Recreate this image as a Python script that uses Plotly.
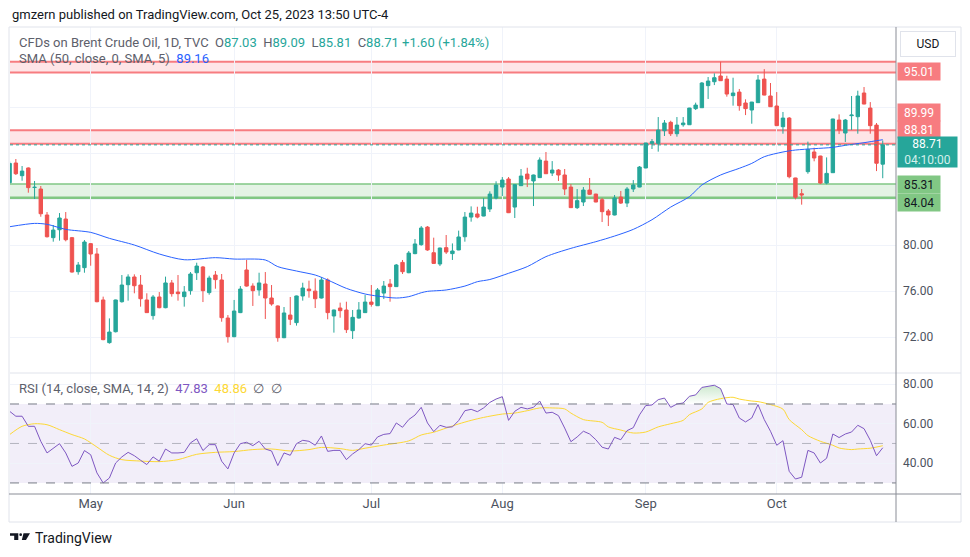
import numpy as np
import pandas as pd
import plotly.graph_objects as go
from plotly.subplots import make_subplots

FONT = "Roboto, 'Noto Sans', sans-serif"
UP, DOWN = "#26a69a", "#ef5350"

# trading days, Apr 12 .. Oct 25 2023 (candle centred at noon)
dates = pd.bdate_range("2023-04-12", "2023-10-25") + pd.Timedelta(hours=12)

open_ = [85.42, 87.13, 86.03, 86.70, 85.00, 84.87, 82.61, 80.64, 81.33, 82.26,
         80.64, 77.68, 78.03, 80.12, 79.22, 75.22, 71.51, 72.46, 75.07, 76.55,
         77.22, 76.52, 75.22, 73.86, 75.48, 74.55, 76.70, 75.91, 75.51, 76.03,
         77.59, 78.09, 75.86, 77.39, 76.96, 73.65, 72.03, 74.12, 77.83, 76.43,
         76.09, 76.61, 75.39, 74.70, 71.94, 73.91, 73.25, 75.57, 76.17, 75.99,
         75.39, 76.96, 73.83, 74.52, 74.35, 72.55, 73.65, 74.12, 75.04, 74.72,
         75.82, 76.61, 76.38, 78.49, 77.59, 79.25, 80.03, 81.56, 79.33, 78.35,
         79.77, 79.25, 79.57, 80.72, 82.43, 82.70, 82.52, 83.13, 84.09, 85.04,
         85.74, 83.30, 85.16, 86.17, 85.57, 85.86, 87.30, 86.26, 86.52, 86.09,
         85.04, 83.25, 83.74, 84.78, 84.43, 83.94, 82.96, 82.61, 84.17, 83.65,
         84.87, 85.04, 86.70, 88.84, 88.84, 89.94, 90.67, 89.68, 90.46, 90.46,
         91.86, 91.94, 93.86, 94.20, 94.70, 94.43, 92.99, 93.30, 92.35, 91.74,
         92.38, 94.43, 92.96, 92.09, 90.29, 91.04, 85.83, 84.46, 86.38, 88.09,
         87.74, 85.39, 86.29, 90.87, 89.74, 91.25, 91.16, 93.22, 91.91, 90.43,
         87.03]
high = [87.30, 87.48, 86.87, 86.75, 85.57, 85.13, 82.87, 81.74, 82.78, 82.87,
        80.70, 78.52, 80.43, 80.17, 79.74, 75.51, 73.62, 75.25, 77.39, 77.45,
        77.45, 77.39, 75.80, 75.65, 75.91, 77.25, 76.96, 77.39, 76.43, 77.65,
        78.46, 78.17, 77.33, 77.74, 77.48, 73.91, 75.22, 76.43, 78.70, 76.67,
        77.59, 77.65, 76.52, 74.75, 74.61, 75.48, 75.60, 76.72, 76.90, 77.10,
        77.22, 77.10, 74.38, 74.99, 75.07, 74.35, 75.04, 75.65, 76.52, 76.26,
        76.87, 77.04, 78.35, 78.70, 79.48, 80.52, 81.65, 81.65, 80.64, 79.77,
        80.87, 80.14, 81.25, 82.87, 83.36, 83.33, 84.09, 84.67, 85.54, 85.91,
        85.91, 85.28, 86.61, 86.72, 86.12, 87.62, 88.09, 87.30, 86.61, 86.61,
        85.30, 84.87, 85.04, 85.83, 84.46, 84.09, 83.13, 84.35, 84.70, 85.04,
        85.65, 86.87, 88.90, 89.22, 91.13, 90.87, 90.81, 91.13, 91.13, 91.93,
        92.38, 94.17, 94.61, 94.93, 95.94, 94.72, 94.55, 93.57, 92.67, 92.45,
        94.78, 95.30, 94.09, 93.30, 91.57, 91.13, 85.85, 84.87, 88.99, 88.46,
        87.76, 87.62, 90.98, 91.36, 90.96, 92.96, 93.42, 93.74, 92.43, 90.61,
        89.09]
low = [85.30, 86.09, 85.59, 84.55, 84.00, 82.46, 80.65, 80.29, 80.38, 80.32,
       77.60, 77.42, 77.59, 78.20, 75.02, 71.72, 71.42, 72.40, 74.99, 75.16,
       75.80, 74.64, 74.10, 73.51, 74.50, 74.50, 75.51, 75.16, 74.64, 75.68,
       76.96, 75.04, 75.68, 76.20, 73.33, 71.51, 71.98, 74.08, 76.38, 74.70,
       75.59, 73.57, 74.72, 71.59, 71.90, 73.04, 72.99, 75.16, 75.42, 74.52,
       75.35, 73.54, 72.38, 73.68, 72.35, 71.83, 73.60, 74.10, 74.64, 74.70,
       75.30, 75.07, 76.35, 77.48, 77.55, 79.20, 79.94, 79.50, 78.35, 78.17,
       79.22, 78.70, 79.55, 80.29, 82.03, 82.32, 82.50, 82.87, 83.97, 84.26,
       82.78, 82.35, 85.14, 85.04, 83.39, 85.84, 86.18, 86.00, 85.57, 84.35,
       83.22, 83.13, 83.39, 84.35, 83.72, 82.00, 81.65, 82.58, 83.57, 83.30,
       84.61, 85.02, 86.68, 88.35, 88.12, 89.48, 89.48, 89.42, 90.29, 90.44,
       91.74, 91.92, 92.70, 93.91, 94.27, 92.90, 92.12, 91.68, 91.30, 90.55,
       92.36, 93.02, 92.01, 90.36, 89.68, 85.80, 83.97, 83.51, 86.20, 87.28,
       85.30, 85.28, 86.27, 89.65, 88.96, 90.00, 89.68, 92.24, 89.68, 86.43,
       85.81]
close = [87.10, 86.20, 86.43, 84.99, 85.02, 82.72, 80.72, 81.30, 82.35, 80.46,
         77.65, 78.26, 80.26, 79.22, 75.07, 71.77, 72.43, 75.22, 76.52, 77.22,
         76.46, 75.33, 74.12, 75.48, 74.55, 76.70, 75.77, 75.77, 75.91, 77.48,
         78.17, 76.03, 77.13, 76.99, 73.68, 72.03, 74.26, 76.17, 76.43, 76.03,
         76.70, 75.39, 74.87, 71.94, 74.09, 73.54, 75.57, 76.26, 76.03, 75.33,
         76.96, 74.12, 74.35, 74.29, 72.64, 73.71, 74.35, 75.04, 74.84, 76.09,
         76.43, 76.38, 78.26, 77.68, 79.30, 80.09, 81.48, 79.57, 78.40, 79.74,
         79.39, 79.48, 80.70, 82.43, 82.78, 82.43, 83.30, 84.43, 85.22, 85.65,
         82.81, 85.25, 86.00, 85.74, 86.09, 87.39, 86.20, 86.52, 86.09, 84.87,
         83.25, 83.86, 84.78, 84.41, 83.74, 82.90, 82.61, 84.09, 83.65, 84.87,
         85.22, 86.78, 88.87, 88.99, 90.00, 90.61, 89.68, 90.43, 90.61, 91.91,
         92.17, 94.09, 94.26, 94.55, 94.29, 93.13, 93.22, 92.12, 91.86, 92.43,
         94.35, 93.04, 92.03, 90.38, 91.04, 85.94, 84.15, 84.35, 88.32, 87.57,
         85.39, 86.23, 90.96, 90.00, 90.87, 91.30, 92.96, 92.26, 90.38, 87.11,
         88.71]

# SMA 50 (candle index -> value)
sma_idx = [0, 4, 6, 9, 13, 16, 20, 24, 28, 33, 36, 41, 43, 46, 49, 51, 54, 57, 59, 62,
           64, 66, 67, 70, 73, 75, 77, 80, 83, 86, 90, 94, 97, 100, 103, 106, 109, 111,
           114, 117, 119, 121, 124, 126, 129, 132, 134, 137, 140]
sma_val = [81.59, 81.88, 81.80, 81.36, 81.10, 80.58, 80.00, 79.22, 78.72, 78.90, 78.78,
           78.70, 78.12, 77.74, 77.39, 76.96, 76.23, 75.74, 75.56, 75.39, 75.51, 75.85,
           75.97, 76.09, 76.43, 76.81, 77.00, 77.54, 78.12, 78.99, 79.71, 80.29, 80.78,
           81.36, 82.20, 83.30, 84.20, 85.22, 86.09, 86.67, 87.10, 87.68, 88.09, 88.26,
           88.38, 88.49, 88.67, 88.90, 89.16]

rsi = [66.3, 63.8, 63.8, 58.7, 58.7, 51.1, 45.2, 47.7, 49.9, 45.2,
       38.4, 40.1, 46.4, 44.3, 35.1, 30.0, 32.5, 40.1, 43.2, 45.5,
       43.8, 41.5, 39.3, 43.2, 41.0, 47.2, 45.2, 45.2, 45.5, 50.3,
       52.4, 46.4, 49.4, 49.4, 41.0, 37.1, 45.2, 49.9, 50.6, 48.9,
       51.1, 47.2, 46.2, 38.8, 45.2, 44.0, 49.9, 51.6, 51.1, 49.1,
       53.8, 46.0, 46.5, 46.5, 41.8, 44.7, 46.9, 49.9, 49.2, 53.3,
       54.6, 55.0, 60.4, 58.2, 62.1, 64.4, 68.3, 60.4, 56.0, 59.2,
       58.2, 58.4, 61.6, 66.6, 67.3, 66.1, 68.0, 70.8, 72.5, 73.7,
       61.7, 66.3, 68.3, 67.5, 68.3, 71.5, 65.4, 65.8, 64.1, 57.8,
       50.9, 53.3, 56.2, 54.8, 51.9, 48.1, 47.2, 53.1, 51.9, 56.5,
       58.0, 64.5, 69.2, 69.5, 72.2, 73.0, 68.3, 70.0, 70.5, 73.9,
       74.6, 78.4, 78.9, 79.5, 77.8, 70.0, 69.7, 62.9, 60.9, 62.9,
       69.7, 62.1, 56.2, 49.1, 51.4, 35.9, 32.0, 32.9, 46.5, 45.2,
       40.1, 42.5, 54.8, 53.0, 54.8, 55.8, 59.2, 57.5, 51.6, 43.8,
       47.83]

rsi_sma_idx = [0, 2, 4, 6, 8, 10, 12, 14, 16, 18, 21, 24, 27, 30, 33, 36, 39, 42, 45, 48,
               50, 53, 55, 57, 60, 64, 66, 68, 70, 72, 74, 76, 79, 81, 83, 85, 87, 89, 90,
               92, 95, 96, 98, 100, 102, 104, 106, 108, 109, 111, 112, 114, 116, 117, 119,
               120, 122, 124, 125, 127, 128, 130, 132, 133, 135, 136, 138, 140]
rsi_sma_val = [54.5, 58.7, 60.0, 59.5, 57.0, 54.5, 52.3, 48.2, 44.0, 41.8, 41.1, 40.8,
               41.8, 44.5, 45.5, 45.9, 46.9, 47.2, 46.2, 46.9, 48.0, 47.4, 46.5, 47.6,
               49.2, 51.3, 54.3, 55.7, 57.8, 59.9, 61.7, 63.2, 64.9, 65.4, 66.6, 68.0,
               68.0, 67.5, 65.4, 62.1, 60.7, 58.4, 56.8, 55.3, 55.8, 58.4, 60.0, 61.7,
               64.6, 67.5, 70.8, 72.7, 73.4, 72.5, 71.5, 71.2, 69.7, 67.4, 62.1, 57.0,
               54.0, 51.1, 49.1, 47.7, 46.9, 47.2, 47.6, 48.86]

month_ticks = ["2023-05-01", "2023-06-01", "2023-07-03", "2023-08-01", "2023-09-01", "2023-10-02"]
month_names = ["May", "Jun", "Jul", "Aug", "Sep", "Oct"]

# pixel layout of the reference (page coords); the html body adds an 8px margin
OFF = 8
W, H = 970 - OFF, 557 - OFF
PL, PR, PT, PB = 10, 896, 27, 494
SPLIT = 373


def px(x):
    return (x - PL) / (PR - PL)


def py(y):
    return (PB - y) / (PB - PT)


fig = make_subplots(rows=2, cols=1, shared_xaxes=True, vertical_spacing=0)

fig.add_trace(go.Candlestick(
    x=dates, open=open_, high=high, low=low, close=close,
    increasing=dict(line=dict(color=UP, width=1), fillcolor=UP),
    decreasing=dict(line=dict(color=DOWN, width=1), fillcolor=DOWN),
    whiskerwidth=0, hoverinfo="skip"), row=1, col=1)

fig.add_trace(go.Scatter(
    x=dates[sma_idx], y=sma_val, mode="lines",
    line=dict(color="#2962ff", width=1, shape="spline", smoothing=0.8)), row=1, col=1)

# RSI overbought gradient fill
rsi_arr = np.array(rsi)
fig.add_trace(go.Scatter(x=dates, y=[70] * len(dates), mode="lines",
                         line=dict(width=0), hoverinfo="skip"), row=2, col=1)
fig.add_trace(go.Scatter(
    x=dates, y=np.maximum(rsi_arr, 70), mode="lines", line=dict(width=0),
    fill="tonexty",
    fillgradient=dict(type="vertical", start=70, stop=82,
                      colorscale=[[0, "rgba(76,175,80,0)"], [1, "rgba(76,175,80,0.35)"]]),
    hoverinfo="skip"), row=2, col=1)

fig.add_trace(go.Scatter(
    x=dates[rsi_sma_idx], y=rsi_sma_val, mode="lines",
    line=dict(color="#fdd835", width=1, shape="spline", smoothing=0.8)), row=2, col=1)
fig.add_trace(go.Scatter(x=dates, y=rsi, mode="lines",
                         line=dict(color="#7e57c2", width=1)), row=2, col=1)

split_frac = py(SPLIT)
fig.update_layout(
    width=W, height=H,
    margin=dict(l=PL - OFF, r=W - (PR - OFF), t=PT - OFF, b=H - (PB - OFF)),
    paper_bgcolor="white", plot_bgcolor="white",
    showlegend=False, boxgap=0.22,
    font=dict(family=FONT, color="#131722"),
    yaxis=dict(domain=[split_frac, 1]),
    yaxis2=dict(domain=[0, split_frac]),
)

xr = ["2023-04-12 13:30", "2023-10-27 15:00"]
fig.update_xaxes(
    type="date", range=xr, rangebreaks=[dict(bounds=["sat", "mon"])],
    tickvals=[pd.Timestamp(d) + pd.Timedelta(hours=12) for d in month_ticks],
    ticktext=month_names, showgrid=True, gridcolor="#f0f3fa", gridwidth=1,
    zeroline=False, showline=False, ticks="",
    tickfont=dict(size=13, color="#4c525e"), rangeslider=dict(visible=False))

fig.update_yaxes(side="right", zeroline=False, showline=False, ticks="",
                 gridcolor="#f0f3fa", tickfont=dict(size=12, color="#4c525e"),
                 ticklabelstandoff=6)
# 84/88/92 labels sit under the price tags, as in the reference
fig.update_yaxes(range=[68.87, 98.96], tickvals=[72, 76, 80, 84, 88, 92],
                 ticktext=["72.00", "76.00", "80.00", "", "", ""], row=1, col=1)
fig.update_yaxes(range=[24.4, 85.7], tickvals=[40, 60, 80],
                 ticktext=["40.00", "60.00", "80.00"], row=2, col=1)

shapes = []


def hline(y, color, width, yref="y", dash="solid", layer="below"):
    shapes.append(dict(type="line", xref="paper", x0=0, x1=1, yref=yref, y0=y, y1=y,
                       line=dict(color=color, width=width, dash=dash), layer=layer))


# drawn zones
for lo, hi in [(95.01, 95.94), (88.81, 89.99)]:
    shapes.append(dict(type="rect", xref="paper", x0=0, x1=1, yref="y", y0=lo, y1=hi,
                       fillcolor="rgba(247,82,95,0.15)", line=dict(width=0), layer="below"))
    hline(lo, "#f77c80", 2)
    hline(hi, "#f77c80", 2)
shapes.append(dict(type="rect", xref="paper", x0=0, x1=1, yref="y", y0=84.16, y1=85.31,
                   fillcolor="rgba(76,175,80,0.15)", line=dict(width=0), layer="below"))
hline(85.31, "#81c784", 1.5)
hline(84.16, "#81c784", 1.5)
hline(84.02, "#81c784", 1.5)
# last price line
hline(88.71, UP, 1, dash="dot", layer="above")
# RSI band
shapes.append(dict(type="rect", xref="paper", x0=0, x1=1, yref="y2", y0=30, y1=70,
                   fillcolor="rgba(126,87,194,0.1)", line=dict(width=0), layer="below"))
hline(70, "#787b86", 1, "y2", "dash", "above")
hline(30, "#787b86", 1, "y2", "dash", "above")
hline(50, "rgba(120,123,134,0.5)", 1, "y2", "dash", "above")
# frame and separators
shapes.append(dict(type="rect", xref="paper", yref="paper", x0=px(9), x1=px(961),
                   y0=py(522), y1=py(27), line=dict(color="#e0e3eb", width=1)))
shapes.append(dict(type="line", xref="paper", yref="paper", x0=0, x1=px(961),
                   y0=split_frac, y1=split_frac, line=dict(color="#e0e3eb", width=1)))
shapes.append(dict(type="line", xref="paper", yref="paper", x0=1, x1=1,
                   y0=py(522), y1=py(27), line=dict(color="#8a8d96", width=1)))
shapes.append(dict(type="line", xref="paper", yref="paper", x0=px(9), x1=px(961),
                   y0=0, y1=0, line=dict(color="#8a8d96", width=1)))
# TradingView logo
logo = [
    f"M {px(10)},{py(533.3)} L {px(18.3)},{py(533.3)} L {px(18.3)},{py(540)} "
    f"L {px(14.2)},{py(540)} L {px(14.2)},{py(535.8)} L {px(10)},{py(535.8)} Z",
    f"M {px(23.5)},{py(533.3)} L {px(30)},{py(533.3)} L {px(26)},{py(540)} "
    f"L {px(21.8)},{py(540)} Z",
]
for p in logo:
    shapes.append(dict(type="path", xref="paper", yref="paper", path=p,
                       fillcolor="#131722", line=dict(width=0)))
shapes.append(dict(type="circle", xref="paper", yref="paper", x0=px(19.3), x1=px(22),
                   y0=py(536), y1=py(533.3), fillcolor="#131722", line=dict(width=0)))
fig.update_layout(shapes=shapes)

GREY = "#5d606b"


def txt(x, y, text, size=13, color=GREY):
    fig.add_annotation(xref="paper", yref="paper", x=px(x), y=py(y), text=text,
                       showarrow=False, xanchor="left", yanchor="middle",
                       font=dict(size=size, color=color, family=FONT))


def teal(v):
    return f'<span style="color:{UP}">{v}</span>'


txt(10, 14, "gmzern published on TradingView.com, Oct 25, 2023 13:50 UTC-4", 13, "#131722")
txt(17, 42, "CFDs on Brent Crude Oil, 1D, TVC  O" + teal("87.03") + "  H" + teal("89.09")
    + "  L" + teal("85.81") + "  C" + teal("88.71") + " " + teal("+1.60 (+1.84%)"))
txt(17, 59, 'SMA (50, close, 0, SMA, 5)  <span style="color:#2962ff">89.16</span>')
txt(17, 388, 'RSI (14, close, SMA, 14, 2)  <span style="color:#7e57c2">47.83</span>  '
    '<span style="color:#fdd835">48.86</span>  ∅  ∅')
txt(33, 538, "TradingView", 14, "#131722")


def tag(val, text, bg, fg, shift, w=42, h=17, align="center"):
    fig.add_annotation(xref="paper", x=1, xanchor="left", xshift=1, yref="y", y=val,
                       yshift=shift, yanchor="middle", text=text, showarrow=False,
                       bgcolor=bg, width=w, height=h, borderpad=0, align=align,
                       font=dict(size=12, color=fg, family=FONT))


tag(95.01, "95.01", "#f77c80", "white", 1)
tag(89.99, "89.99", "#f77c80", "white", 17.5)
tag(88.81, "88.81", "#f77c80", "white", 14.5)
tag(88.71, '88.71<br><span style="color:#d4f0ec">04:10:00</span>', UP, "white", -7,
    w=59, h=30)
tag(85.31, "85.31", "#81c784", "#131722", -1)
tag(84.04, "84.04", "#81c784", "#131722", -3.5)

fig.add_annotation(xref="paper", yref="paper", x=px(928), y=py(44.5), text="USD",
                   showarrow=False, xanchor="center", yanchor="middle", width=52, height=22,
                   bordercolor="#e0e3eb", borderwidth=1, bgcolor="white",
                   font=dict(size=12, color="#131722", family=FONT))

fig.write_html("out.html")
